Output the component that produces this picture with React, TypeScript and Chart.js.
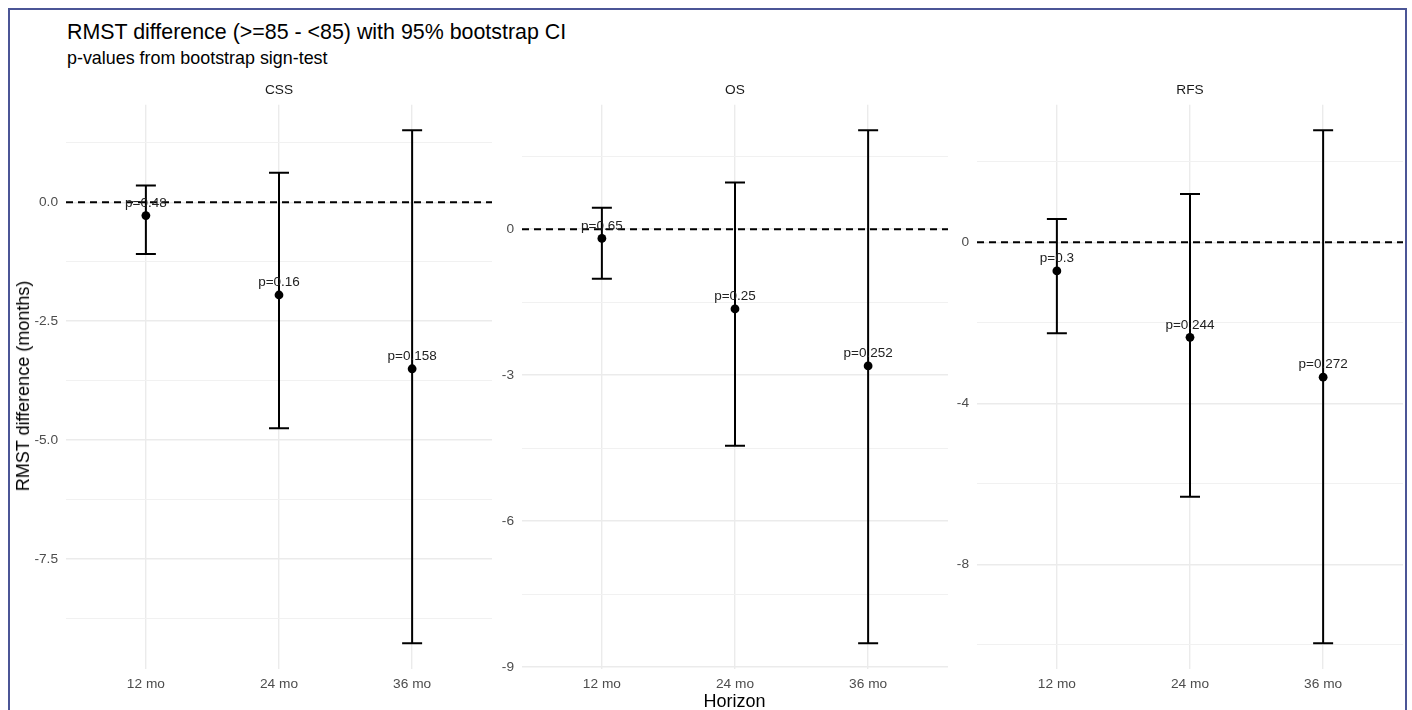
import React, { useEffect, useRef } from "react";
import { Chart, registerables } from "chart.js";

Chart.register(...registerables);

// ---------- data ----------
const horizons = ["12 mo", "24 mo", "36 mo"];

const cssEstimate = [-0.28, -1.95, -3.5];
const cssLower = [-1.09, -4.75, -9.27];
const cssUpper = [0.35, 0.62, 1.51];
const cssPLabels = ["p=0.48", "p=0.16", "p=0.158"];

const osEstimate = [-0.19, -1.64, -2.81];
const osLower = [-1.02, -4.45, -8.51];
const osUpper = [0.44, 0.96, 2.03];
const osPLabels = ["p=0.65", "p=0.25", "p=0.252"];

const rfsEstimate = [-0.71, -2.36, -3.35];
const rfsLower = [-2.26, -6.32, -9.96];
const rfsUpper = [0.58, 1.2, 2.78];
const rfsPLabels = ["p=0.3", "p=0.244", "p=0.272"];

const panelNames = ["CSS", "OS", "RFS"];
const panelTickSteps = [2.5, 3, 4];
const panelTickDecimals = [1, 0, 0];

const FONT = "'Liberation Sans', Arial, Helvetica, sans-serif";

// ---------- layout ----------
const AREA_LEFTS = [66, 522, 977];
const AREA_WIDTH = 426;
const AREA_TOP = 104.7;
const AREA_BOTTOM = 669;
const CANVAS_TOP = 70;
const YAXIS_W = 56;
const XAXIS_H = 30;

type PanelProps = {
  name: string;
  est: number[];
  lo: number[];
  hi: number[];
  pLabels: string[];
  step: number;
  decimals: number;
  areaLeft: number;
};

function Panel({ name, est, lo, hi, pLabels, step, decimals, areaLeft }: PanelProps) {
  const ref = useRef<HTMLCanvasElement | null>(null);
  const width = YAXIS_W + AREA_WIDTH;
  const height = Math.round(AREA_BOTTOM - CANVAS_TOP + XAXIS_H);

  useEffect(() => {
    if (!ref.current) return;
    const dataMin = Math.min(...lo);
    const dataMax = Math.max(...hi);
    const pad = (dataMax - dataMin) * 0.05;
    const yMin = dataMin - pad;
    const yMax = dataMax + pad;
    const half = step / 2;
    const isMajor = (v: number) => Math.abs(v / step - Math.round(v / step)) < 1e-6;

    const datasets: any[] = [];
    datasets.push({
      label: "estimate",
      data: est.map((v, i) => ({ x: i + 1, y: v })),
      pointRadius: 4.4,
      pointHoverRadius: 4.4,
      pointBackgroundColor: "#000",
      pointBorderColor: "#000",
      pointBorderWidth: 0,
      showLine: false,
      order: 1,
    });
    horizons.forEach((_, i) => {
      datasets.push({
        label: "ci" + i,
        data: [
          { x: i + 1, y: lo[i] },
          { x: i + 1, y: hi[i] },
        ],
        showLine: true,
        borderColor: "#000",
        borderWidth: 2,
        pointStyle: "line",
        pointRadius: 10,
        pointHoverRadius: 10,
        pointBorderColor: "#000",
        pointBorderWidth: 2,
        order: 2,
      });
    });

    const annot = {
      id: "annot" + name,
      beforeDatasetsDraw(chart: any) {
        const { ctx, chartArea, scales } = chart;
        const y = scales.y.getPixelForValue(0);
        ctx.save();
        ctx.strokeStyle = "#000";
        ctx.lineWidth = 2;
        ctx.setLineDash([7, 5]);
        ctx.beginPath();
        ctx.moveTo(chartArea.left, y);
        ctx.lineTo(chartArea.right, y);
        ctx.stroke();
        ctx.restore();
      },
      afterDatasetsDraw(chart: any) {
        const { ctx, scales, chartArea } = chart;
        ctx.save();
        ctx.fillStyle = "#222";
        ctx.font = `13.5px ${FONT}`;
        ctx.textAlign = "center";
        ctx.textBaseline = "middle";
        est.forEach((v, i) => {
          const x = scales.x.getPixelForValue(i + 1);
          const y = scales.y.getPixelForValue(v) - 12.5;
          ctx.fillText(pLabels[i], x, y);
        });
        // strip label
        ctx.fillStyle = "#1a1a1a";
        ctx.font = `13.7px ${FONT}`;
        ctx.fillText(name, (chartArea.left + chartArea.right) / 2, chartArea.top - 14);
        ctx.restore();
      },
    };

    const chart = new Chart(ref.current, {
      type: "scatter",
      data: { datasets },
      options: {
        animation: false,
        responsive: false,
        events: [],
        layout: {
          autoPadding: false,
          padding: { top: AREA_TOP - CANVAS_TOP, left: 0, right: 0, bottom: 0 },
        },
        plugins: { legend: { display: false }, tooltip: { enabled: false }, title: { display: false } },
        scales: {
          x: {
            type: "linear",
            min: 0.4,
            max: 3.6,
            bounds: "data",
            afterBuildTicks: (scale: any) => {
              scale.ticks = horizons.map((_, i) => ({ value: i + 1 }));
            },
            afterFit: (scale: any) => {
              scale.height = XAXIS_H;
              scale.paddingLeft = 0;
              scale.paddingRight = 0;
            },
            ticks: {
              callback: (v: any) => horizons[Math.round(Number(v)) - 1] ?? "",
              font: { family: FONT, size: 13.7 },
              color: "#4d4d4d",
              padding: 7,
              maxRotation: 0,
              autoSkip: false,
            },
            grid: { color: "#ebebeb", lineWidth: 1.4, drawTicks: false },
            border: { display: false },
          },
          y: {
            type: "linear",
            min: yMin,
            max: yMax,
            bounds: "data",
            afterBuildTicks: (scale: any) => {
              const ticks: any[] = [];
              const kStart = Math.ceil(yMin / half);
              const kEnd = Math.floor(yMax / half);
              for (let k = kStart; k <= kEnd; k++) {
                const v = k === 0 ? 0 : k * half;
                ticks.push({ value: v });
              }
              scale.ticks = ticks;
            },
            afterFit: (scale: any) => {
              scale.width = YAXIS_W;
              scale.paddingTop = 0;
              scale.paddingBottom = 0;
            },
            ticks: {
              callback: (v: any) => {
                const n = Number(v);
                if (!isMajor(n)) return "";
                const val = Math.abs(n) < 1e-9 ? 0 : n;
                return val.toFixed(decimals);
              },
              font: { family: FONT, size: 13.7 },
              color: "#4d4d4d",
              padding: 8,
              autoSkip: false,
            },
            grid: {
              color: (c: any) => (c.tick && isMajor(c.tick.value) ? "#ebebeb" : "#f1f1f1"),
              lineWidth: (c: any) => (c.tick && isMajor(c.tick.value) ? 1.4 : 1),
              drawTicks: false,
            },
            border: { display: false },
          },
        },
      },
      plugins: [annot],
    });
    return () => chart.destroy();
  }, []);

  return (
    <canvas
      ref={ref}
      width={width}
      height={height}
      style={{ position: "absolute", left: areaLeft - YAXIS_W, top: CANVAS_TOP, width, height }}
    />
  );
}

export default function App() {
  const ests = [cssEstimate, osEstimate, rfsEstimate];
  const los = [cssLower, osLower, rfsLower];
  const his = [cssUpper, osUpper, rfsUpper];
  const ps = [cssPLabels, osPLabels, rfsPLabels];
  return (
    <div
      style={{
        position: "absolute",
        left: 0,
        top: 0,
        width: 1412,
        height: 710,
        overflow: "hidden",
        background: "#fff",
        fontFamily: FONT,
      }}
    >
      <div
        style={{
          position: "absolute",
          left: 8,
          top: 8,
          width: 1399,
          height: 800,
          boxSizing: "border-box",
          border: "2px solid #4b5596",
        }}
      />
      <div
        style={{
          position: "absolute",
          left: 67,
          top: 21.9,
          fontSize: 21.4,
          lineHeight: "21.4px",
          color: "#000",
          whiteSpace: "nowrap",
        }}
      >
        RMST difference (&gt;=85 - &lt;85) with 95% bootstrap CI
      </div>
      <div
        style={{
          position: "absolute",
          left: 67,
          top: 49.9,
          fontSize: 17.9,
          lineHeight: "17.9px",
          color: "#000",
          whiteSpace: "nowrap",
        }}
      >
        p-values from bootstrap sign-test
      </div>
      {panelNames.map((n, i) => (
        <Panel
          key={n}
          name={n}
          est={ests[i]}
          lo={los[i]}
          hi={his[i]}
          pLabels={ps[i]}
          step={panelTickSteps[i]}
          decimals={panelTickDecimals[i]}
          areaLeft={AREA_LEFTS[i]}
        />
      ))}
      <div
        style={{
          position: "absolute",
          left: 23,
          top: 386,
          transform: "translate(-50%, -50%) rotate(-90deg)",
          fontSize: 18,
          lineHeight: "18px",
          color: "#000",
          whiteSpace: "nowrap",
        }}
      >
        RMST difference (months)
      </div>
      <div
        style={{
          position: "absolute",
          left: 634.5,
          width: 200,
          top: 691.5,
          textAlign: "center",
          fontSize: 18,
          lineHeight: "18px",
          color: "#000",
          whiteSpace: "nowrap",
        }}
      >
        Horizon
      </div>
    </div>
  );
}
